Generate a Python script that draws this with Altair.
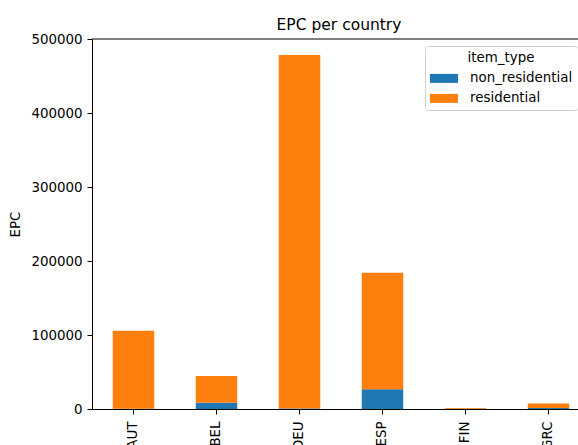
import altair as alt
import pandas as pd

countries = ["AUT", "BEL", "DEU", "ESP", "FIN", "GRC"]
non_residential = [400, 8500, 600, 26600, 300, 1200]
residential = [105400, 36100, 477800, 157600, 1200, 6300]

rows = []
for c, nr, r in zip(countries, non_residential, residential):
    rows.append({"country": c, "item_type": "non_residential", "EPC": nr, "order": 0})
    rows.append({"country": c, "item_type": "residential", "EPC": r, "order": 1})
df = pd.DataFrame(rows)

FONT = "DejaVu Sans"
FS = 13.4
PLOT_W = 486
STEP = 83

bars = alt.Chart(df).mark_bar(stroke=None).encode(
    x=alt.X(
        "country:N",
        sort=countries,
        scale=alt.Scale(
            paddingInner=0.5,
            paddingOuter=(PLOT_W / STEP - 5.5) / 2,
            align=0.703,
        ),
        axis=alt.Axis(
            title=None,
            labelAngle=270,
            labelAlign="right",
            labelBaseline="middle",
            tickSize=5,
            labelPadding=7,
        ),
    ),
    y=alt.Y(
        "EPC:Q",
        stack="zero",
        scale=alt.Scale(domain=[0, 500000], nice=False),
        axis=alt.Axis(
            title="EPC",
            values=[0, 100000, 200000, 300000, 400000, 500000],
            format="d",
            grid=False,
            tickSize=5,
            labelPadding=5,
            titlePadding=8,
            titleFontWeight="normal",
        ),
    ),
    color=alt.Color(
        "item_type:N",
        scale=alt.Scale(
            domain=["non_residential", "residential"],
            range=["#1f77b4", "#ff7f0e"],
        ),
        legend=alt.Legend(
            title="item_type",
            orient="none",
            legendX=333,
            legendY=7,
            padding=5,
            fillColor="white",
            strokeColor="#d0d0d0",
            cornerRadius=3,
            symbolType="M-1.4,-0.45L1.4,-0.45L1.4,0.45L-1.4,0.45Z",
            symbolSize=400,
            symbolOffset=4,
            symbolStrokeWidth=0,
            labelOffset=16,
            rowPadding=3,
            titleAnchor="middle",
            titleFontWeight="normal",
            titlePadding=4,
        ),
    ),
    order=alt.Order("order:Q"),
)

top_spine = alt.Chart(pd.DataFrame({"y": [500000]})).mark_rule(
    color="black", strokeWidth=1
).encode(y="y:Q")

chart = (
    alt.layer(bars, top_spine)
    .properties(
        width=PLOT_W,
        height=370,
        autosize=alt.AutoSizeParams(type="none"),
        padding={"left": 92, "top": 39, "right": 0, "bottom": 36},
        title=alt.TitleParams(
            "EPC per country",
            fontSize=15.5,
            font=FONT,
            fontWeight="normal",
            color="black",
            anchor="middle",
            dx=4,
            offset=-1,
        ),
    )
    .configure_view(stroke=None)
    .configure_axis(
        labelFont=FONT,
        labelFontSize=FS,
        labelColor="black",
        titleFont=FONT,
        titleFontSize=FS,
        titleColor="black",
        domainColor="black",
        tickColor="black",
        domainWidth=1,
        tickWidth=1,
    )
    .configure_legend(
        labelFont=FONT,
        labelFontSize=FS,
        labelColor="black",
        titleFont=FONT,
        titleFontSize=FS,
        titleColor="black",
    )
)

chart.save("out.html", embed_options={"renderer": "svg", "actions": False})
